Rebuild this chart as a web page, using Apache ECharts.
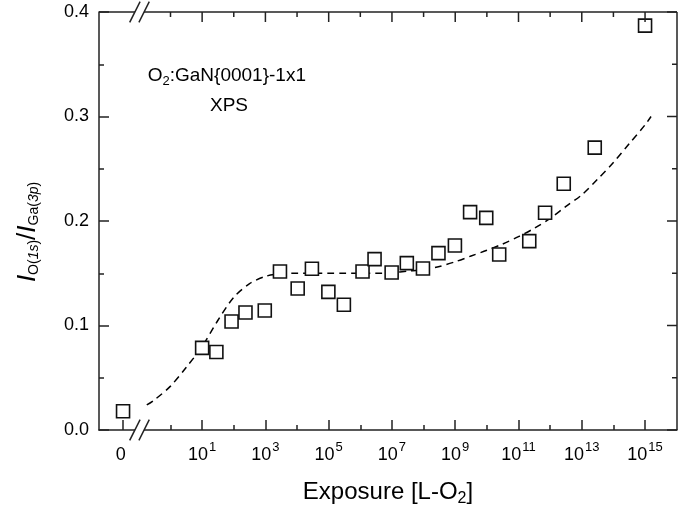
<!DOCTYPE html>
<html>
<head>
<meta charset="utf-8">
<script src="https://cdn.jsdelivr.net/npm/echarts@6/dist/echarts.min.js"></script>
<style>
  html, body { margin: 0; background: #fff; }
  #chart { width: 691px; height: 508px; }
</style>
</head>
<body>
<div id="chart"></div>
<script>
// x is log10(exposure); the exposure 0 point sits left of the axis break
var zeroPos = -1.5
var breakPos = -0.98

// measured points, O(1s)/Ga(3p)
var pointExp = [zeroPos, 1.0, 1.45, 1.93, 2.37, 2.98, 3.46, 4.02, 4.47, 4.99, 5.48, 6.07, 6.45,
  6.99, 7.47, 7.98, 8.47, 8.99, 9.47, 9.98, 10.39, 11.34, 11.84, 12.43, 13.41, 15.0]
var pointRatio = [0.018, 0.0786, 0.0747, 0.1038, 0.1124, 0.1143, 0.1517, 0.1354, 0.1543, 0.1322, 0.1198, 0.1517, 0.1635,
  0.1507, 0.1597, 0.1546, 0.1693, 0.1765, 0.2085, 0.203, 0.168, 0.1807, 0.2079, 0.2357, 0.2702, 0.387]

// dashed model curve, read at half decades
var curveExp = [-0.75, -0.5, 0, 0.5, 1, 1.5, 2, 2.5, 3, 3.5, 4, 4.5, 5, 5.5, 6, 6.5, 7, 7.5,
  8, 8.5, 9, 9.5, 10, 10.5, 11, 11.5, 12, 12.5, 13, 13.5, 14, 14.5, 15, 15.19]
var curveRatio = [0.024, 0.029, 0.042, 0.060, 0.080, 0.105, 0.127, 0.140, 0.147, 0.1495, 0.150, 0.150, 0.150, 0.150, 0.150, 0.150, 0.1505, 0.152,
  0.1535, 0.1565, 0.161, 0.1665, 0.172, 0.178, 0.185, 0.193, 0.2025, 0.214, 0.225, 0.240, 0.256, 0.274, 0.292, 0.300]

// tick positions
var majorTicks = [zeroPos, 1, 3, 5, 7, 9, 11, 13, 15]
var topMajorTicks = [1, 3, 5, 7, 9, 11, 13, 15]
var minorTicks = [0, 2, 4, 6, 8, 10, 12, 14]
var rightMajorTicks = [0, 0.1, 0.2, 0.3, 0.4]
var rightMinorTicks = [0.05, 0.15, 0.25, 0.35]

var FONT = 'Arial, "Liberation Sans", sans-serif'
var AXIS_COLOR = '#222'
var xMin = -2.26, xMax = 16.01

function zip(a, b) {
  return a.map(function (v, i) { return [v, b[i]] })
}

function xAxisDef(gridIndex, ticks, len, showLine) {
  return {
    type: 'value', gridIndex: gridIndex, position: 'bottom', min: xMin, max: xMax,
    axisLine: { show: showLine, onZero: false, lineStyle: { color: AXIS_COLOR, width: 1.5 } },
    axisTick: { show: true, inside: true, length: len, customValues: ticks, lineStyle: { color: AXIS_COLOR, width: 1.5 } },
    axisLabel: { show: false },
    splitLine: { show: false }
  }
}

var bottomAxis = xAxisDef(0, majorTicks, 10, true)
bottomAxis.axisLabel = {
  show: true,
  customValues: majorTicks,
  margin: 11,
  formatter: function (v) {
    if (v === zeroPos) return '{n|0}{s| }'
    return '{n|10}{s|' + v + '}'
  },
  rich: {
    n: { fontSize: 18, fontFamily: FONT, color: '#000' },
    s: { fontSize: 13, fontFamily: FONT, color: '#000', padding: [0, 0, 15, 1] }
  }
}
bottomAxis.name = '{n|Exposure [L-O}{s|2}{n|]}'
bottomAxis.nameLocation = 'middle'
bottomAxis.nameGap = 48
bottomAxis.nameTextStyle = {
  rich: {
    n: { fontSize: 24, fontFamily: FONT, color: '#000' },
    s: { fontSize: 16, fontFamily: FONT, color: '#000', padding: [13, 0, 0, 0] }
  }
}

var leftAxis = {
  type: 'value', gridIndex: 0, position: 'left', min: 0, max: 0.4, interval: 0.1,
  axisLine: { show: true, onZero: false, lineStyle: { color: AXIS_COLOR, width: 1.5 } },
  axisTick: { show: true, inside: true, length: 10, lineStyle: { color: AXIS_COLOR, width: 1.5 } },
  minorTick: { show: true, splitNumber: 2, length: 5, lineStyle: { color: AXIS_COLOR, width: 1.5 } },
  axisLabel: {
    margin: 10, fontSize: 18, fontFamily: FONT, color: '#000',
    formatter: function (v) { return v.toFixed(1) }
  },
  splitLine: { show: false },
  name: '{i|I}{s|O(}{si|1s}{s|)}{sl|/}{i|I}{s|Ga(}{si|3p}{s|)}',
  nameLocation: 'middle',
  nameGap: 58,
  nameRotate: 90,
  nameTextStyle: {
    padding: [0, 22, 0, 0],
    rich: {
      i: { fontSize: 26, fontFamily: FONT, fontStyle: 'italic', color: '#000' },
      sl: { fontSize: 26, fontFamily: FONT, color: '#000' },
      s: { fontSize: 14, fontFamily: FONT, color: '#000', padding: [12, 0, 0, 0] },
      si: { fontSize: 14, fontFamily: FONT, fontStyle: 'italic', color: '#000', padding: [12, 0, 0, 0] }
    }
  }
}

var chart = echarts.init(document.getElementById('chart'))
var gridBox = { left: 99, right: 14, top: 12, bottom: 78, outerBoundsMode: 'none', containLabel: false }

chart.setOption({
  animation: false,
  backgroundColor: '#fff',
  grid: [Object.assign({}, gridBox), Object.assign({}, gridBox)],
  xAxis: [
    bottomAxis,
    xAxisDef(1, minorTicks, 5, false)
  ],
  yAxis: [
    leftAxis,
    { type: 'value', gridIndex: 1, min: 0, max: 0.4, show: false }
  ],
  series: [
    {
      type: 'line', xAxisIndex: 0, yAxisIndex: 0,
      data: zip(curveExp, curveRatio),
      smooth: 0.3, showSymbol: false, symbol: 'none',
      lineStyle: { color: '#000', width: 1.5, type: [7, 5] },
      z: 2
    },
    {
      type: 'scatter', xAxisIndex: 0, yAxisIndex: 0,
      data: zip(pointExp, pointRatio),
      symbol: 'rect', symbolSize: 13,
      itemStyle: { color: '#fff', borderColor: '#111', borderWidth: 1.6, opacity: 1 },
      z: 3
    }
  ]
})

function px(x, y) {
  return chart.convertToPixel({ xAxisIndex: 0, yAxisIndex: 0 }, [x, y])
}
function seg(x1, y1, x2, y2, z) {
  return { type: 'line', z: z || 9, shape: { x1: x1, y1: y1, x2: x2, y2: y2 }, style: { stroke: AXIS_COLOR, lineWidth: 1.5 } }
}

var gfx = []

// top and right edges of the frame, with inward ticks, from the axis scales
var tl = px(xMin, 0.4), tr = px(xMax, 0.4), br = px(xMax, 0)
gfx.push(seg(tl[0], tl[1], tr[0], tr[1]))
gfx.push(seg(tr[0], tr[1], br[0], br[1]))
topMajorTicks.forEach(function (v) { var p = px(v, 0.4); gfx.push(seg(p[0], p[1], p[0], p[1] + 10)) })
minorTicks.forEach(function (v) { var p = px(v, 0.4); gfx.push(seg(p[0], p[1], p[0], p[1] + 5)) })
rightMajorTicks.forEach(function (v) { var p = px(xMax, v); gfx.push(seg(p[0], p[1], p[0] - 10, p[1])) })
rightMinorTicks.forEach(function (v) { var p = px(xMax, v); gfx.push(seg(p[0], p[1], p[0] - 5, p[1])) })

// axis break marks
;[px(breakPos, 0), px(breakPos, 0.4)].forEach(function (p) {
  var cx = p[0], cy = p[1]
  gfx.push({ type: 'rect', shape: { x: cx - 4.5, y: cy - 2, width: 9, height: 4 }, style: { fill: '#fff' }, z: 10 })
  ;[-4.6, 4.6].forEach(function (dx) {
    gfx.push(seg(cx + dx - 5.2, cy + 10.3, cx + dx + 5.2, cy - 10.3, 11))
  })
})

var tagPt = px(-0.72, 0.339)
gfx.push({
  type: 'text', x: tagPt[0], y: tagPt[1], z: 12,
  style: {
    text: '{a|O}{b|2}{a|:GaN}\u007b0001\u007d-1x1',
    font: '19px ' + FONT, fill: '#000', verticalAlign: 'middle',
    rich: {
      a: { fontSize: 19, fontFamily: FONT, fill: '#000' },
      b: { fontSize: 13, fontFamily: FONT, fill: '#000', padding: [12, 0, 0, 0] }
    }
  }
})
var xpsPt = px(1.85, 0.31)
gfx.push({
  type: 'text', x: xpsPt[0], y: xpsPt[1], z: 12,
  style: { text: 'XPS', font: '19px ' + FONT, fill: '#000', align: 'center', verticalAlign: 'middle' }
})

chart.setOption({ graphic: gfx })
</script>
</body>
</html>
